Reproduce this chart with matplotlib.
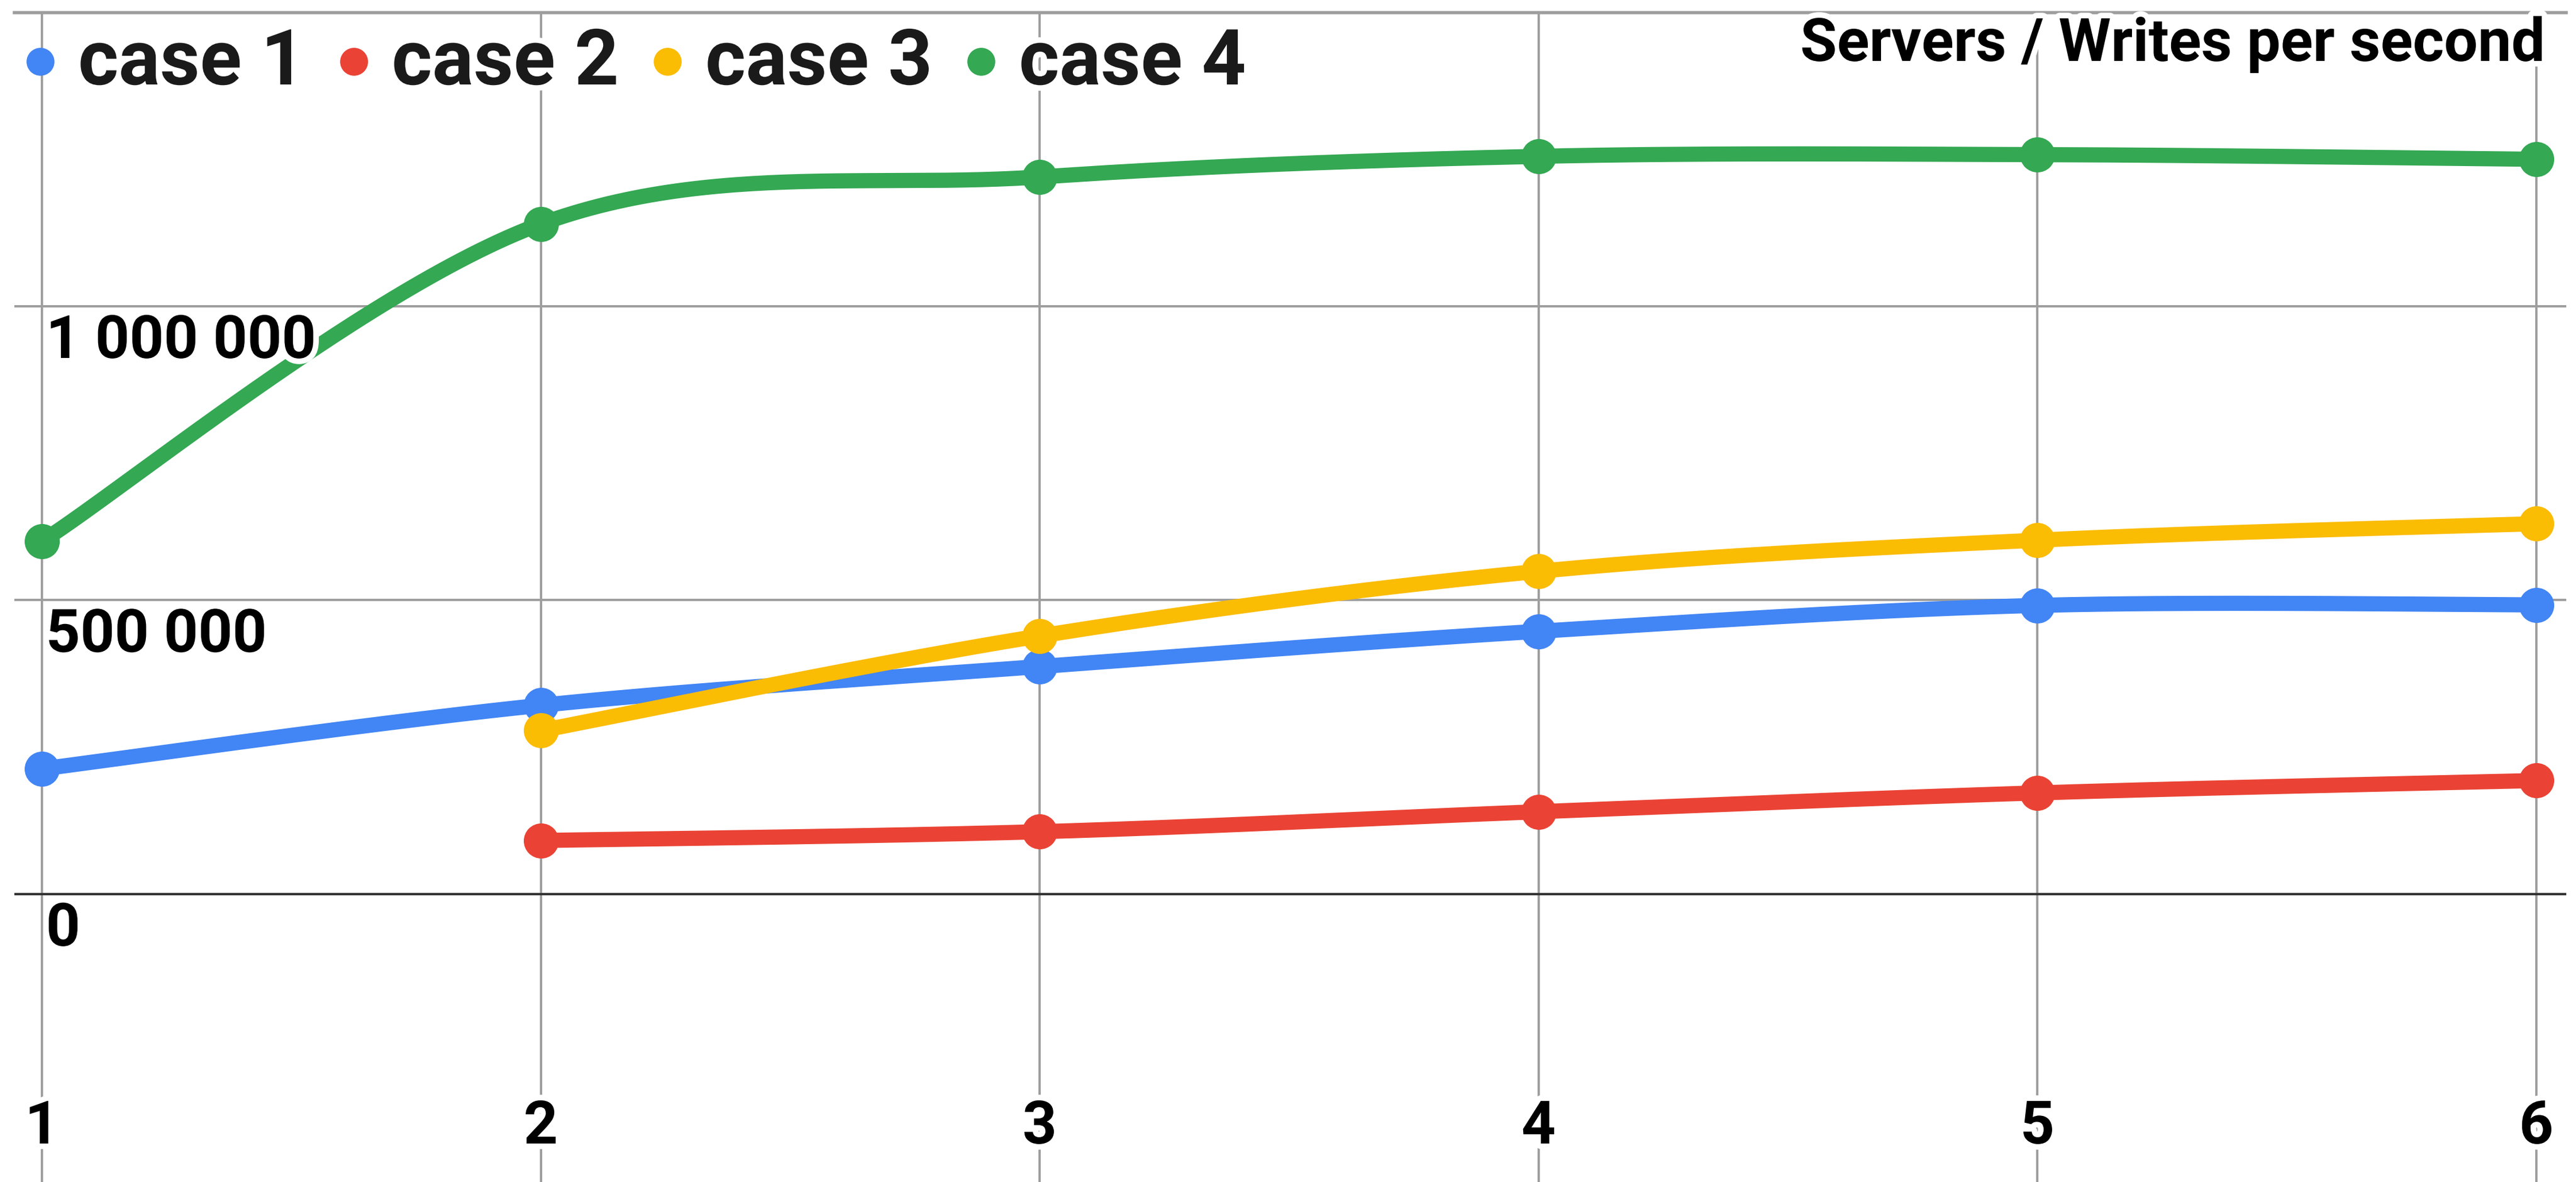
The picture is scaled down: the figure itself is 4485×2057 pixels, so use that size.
import numpy as np
import matplotlib.pyplot as plt
from matplotlib import patheffects as pe

# servers on the x axis, writes per second for each test case
servers = [1, 2, 3, 4, 5, 6]
case1 = [213000, 321000, 387000, 447000, 491000, 492000]
case2 = [np.nan, 91000, 106000, 140000, 172000, 193000]
case3 = [np.nan, 278000, 439000, 549000, 602000, 630000]
case4 = [600000, 1140000, 1220000, 1255000, 1258000, 1250000]

names = ["case 1", "case 2", "case 3", "case 4"]
colors = ["#4285F4", "#EA4335", "#FBBC04", "#34A853"]
y_ticks = [0, 500000, 1000000, 1500000]
y_labels = ["0", "500 000", "1 000 000"]
title = "Servers / Writes per second"

plt.rcParams["font.family"] = ["Roboto", "DejaVu Sans"]
plt.rcParams["font.weight"] = "bold"

W, H = 4485, 2057
fig = plt.figure(figsize=(W / 100, H / 100), dpi=100)
# axes box in pixels: left 25, right 4468, top 21.5, runs off the bottom
ax = fig.add_axes([25 / W, 0, (4468 - 25) / W, (H - 21.5) / H])
ax.set_xlim(0.9447, 6.06)
ax.set_ylim(-490000, 1500000)
for s in ax.spines.values():
    s.set_visible(False)
ax.set_xticks(servers)
ax.set_yticks(y_ticks)
ax.tick_params(length=0, labelbottom=False, labelleft=False)
ax.grid(color="#9e9e9e", lw=2.9, zorder=0)
ax.set_axisbelow(True)
ax.axhline(0, color="#333333", lw=3.0, zorder=1)
ax.axhline(1500000, color="#9e9e9e", lw=4, zorder=1, clip_on=False)


def smooth(x, y, steps=60):
    # cubic bezier through the points, catmull-rom style handles
    x = np.asarray(x, float)
    y = np.asarray(y, float)
    keep = ~np.isnan(y)
    x, y = x[keep], y[keep]
    n = len(x)
    t = np.linspace(0, 1, steps)[:, None]
    out = []
    for i in range(n - 1):
        i0, i3 = max(i - 1, 0), min(i + 2, n - 1)
        p0 = np.array([x[i], y[i]])
        p3 = np.array([x[i + 1], y[i + 1]])
        p1 = p0 + (np.array([x[i + 1], y[i + 1]]) - np.array([x[i0], y[i0]])) / 6
        p2 = p3 - (np.array([x[i3], y[i3]]) - np.array([x[i], y[i]])) / 6
        seg = ((1 - t) ** 3) * p0 + 3 * ((1 - t) ** 2) * t * p1 \
            + 3 * (1 - t) * t ** 2 * p2 + t ** 3 * p3
        out.append(seg)
    pts = np.vstack(out)
    return pts[:, 0], pts[:, 1]


series = [case1, case2, case3, case4]
for vals, c in zip(series, colors):
    sx, sy = smooth(servers, vals)
    ax.plot(sx, sy, color=c, lw=19, solid_capstyle="round", zorder=3)
for vals, c in zip(series, colors):
    ax.plot(servers, vals, "o", ms=44, color=c, mec="none", zorder=4)

halo = [pe.withStroke(linewidth=14, foreground="white")]

# value labels just under each gridline, right of the first server line
for v, lab in zip(y_ticks, y_labels):
    ax.annotate(lab, xy=(servers[0], v), xytext=(7, -90), textcoords="offset pixels",
                ha="left", va="baseline", fontsize=75, fontweight="bold",
                color="black", path_effects=halo, zorder=6)

# server numbers near the bottom edge
for s in servers:
    ax.text(s, (H - 1990) / (H - 21.5), str(s), transform=ax.get_xaxis_transform(),
            ha="center", va="baseline", fontsize=75, fontweight="bold",
            color="black", path_effects=halo, zorder=6)

fig.text(4430 / W, 1 - 106 / H, title, ha="right", va="baseline", fontsize=75,
         fontweight="bold", color="black", path_effects=halo, zorder=6)

# legend: dot then label, fixed step between entries
for i, (name, c) in enumerate(zip(names, colors)):
    x0 = 70 + i * 546
    fig.add_artist(plt.Line2D([x0 / W], [1 - 107 / H], marker="o", ms=35, color=c,
                              mec="none", ls="none", zorder=7))
    fig.text((x0 + 66) / W, 1 - 147 / H, name, ha="left", va="baseline",
             fontsize=97, fontweight="bold", color="#1a1a1a",
             path_effects=halo, zorder=7)

fig.savefig("out.png", dpi=100, facecolor="white")
